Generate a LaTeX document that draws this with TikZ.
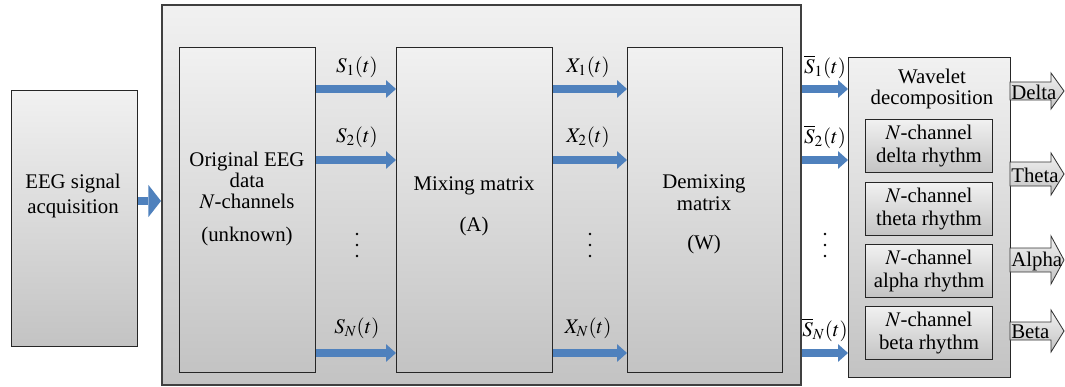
\documentclass[tikz,border=0pt]{standalone}
\usepackage{mathptmx}
\usepackage{fontspec}
\setmainfont{Liberation Serif}
\usepackage{tikz}
\usetikzlibrary{arrows.meta}
\tikzset{>=stealth}

\definecolor{flowblue}{HTML}{4F81BD}
\definecolor{boxtop}{HTML}{F1F1F1}
\definecolor{boxbot}{HTML}{C3C3C3}
\definecolor{rimgray}{HTML}{404040}
\newcommand\pxu{0.025cm}

\tikzset{
  blk/.style={draw=black!85, line width=0.8pt, top color=boxtop, bottom color=boxbot,
    anchor=north west, inner sep=0pt},
  frame/.style={blk, draw=rimgray, line width=1.4pt},
  rhythm/.style={blk, line width=0.7pt, align=center, font=\fontsize{14.8}{15.8}\selectfont,
    minimum width=127*\pxu, minimum height=53*\pxu},
  txt/.style={align=center, inner sep=0pt, font=\fontsize{14.8}{17}\selectfont},
  sig/.style={inner sep=0pt, font=\fontsize{14.8}{17}\selectfont},
  flow/.style={draw=flowblue, line width=5.6pt,
    -{Triangle[length=7pt,width=12.5pt,line width=0pt]}},
  bigflow/.style={flow, -{Triangle[length=9pt,width=23pt,line width=0pt]}},
  band/.style={draw=black!80, line width=0.6pt, top color=boxtop, bottom color=boxbot},
  dot/.style={fill=black}
}

% output band arrow: y, body half height, head half height, text
\newcommand\bandarrow[4]{%
  \draw[band] (1010,#1-#2) -- (1051,#1-#2) -- (1051,#1-#3) -- (1064,#1)
    -- (1051,#1+#3) -- (1051,#1+#2) -- (1010,#1+#2) -- cycle;
  \node[sig, anchor=west] at (1011,#1+1) {#4};}

\begin{document}
\begin{tikzpicture}[x=0.025cm, y=-0.025cm]
  \useasboundingbox (0,0) rectangle (1065,387);

  % rows of the signals
  \coordinate (r1) at (0,89);
  \coordinate (r2) at (0,160);
  \coordinate (rn) at (0,353);

  % acquisition
  \node[blk, minimum width=126*\pxu, minimum height=256*\pxu] (eeg) at (11,90) {};
  \node[txt, font=\fontsize{14.8}{18}\selectfont] (eegtxt) at (73,196) {EEG signal\\acquisition};

  % big frame with the three stages
  \node[frame, minimum width=639*\pxu, minimum height=380*\pxu] (frame) at (161,4) {};
  \node[blk, minimum width=136*\pxu, minimum height=325*\pxu] (orig) at (179,47) {};
  \node[blk, minimum width=156*\pxu, minimum height=325*\pxu] (mix) at (396,47) {};
  \node[blk, minimum width=155*\pxu, minimum height=325*\pxu] (demix) at (627,47) {};

  \node[txt, font=\fontsize{14.8}{15}\selectfont] (origtxt) at (247,199)
    {Original EEG\\data\\$N$-channels\\[8pt](unknown)};
  \node[txt] (mixtxt) at (474,206) {Mixing matrix\\[12pt](A)};
  \node[txt, font=\fontsize{14.8}{15.8}\selectfont] (demixtxt) at (704,214)
    {Demixing\\matrix\\[12pt](W)};

  % wavelet decomposition
  \node[blk, minimum width=162*\pxu, minimum height=320*\pxu] (wav) at (848,57) {};
  \node[txt, font=\fontsize{14.8}{15}\selectfont] (wavtxt) at (932,89) {Wavelet\\decomposition};
  \node[rhythm] (delta) at (865,119) {$N$-channel\\delta rhythm};
  \node[rhythm] (theta) at (865,182) {$N$-channel\\theta rhythm};
  \node[rhythm] (alpha) at (865,244) {$N$-channel\\alpha rhythm};
  \node[rhythm] (beta) at (865,306) {$N$-channel\\beta rhythm};

  % blue arrows
  \draw[bigflow] (eeg.east |- 0,201) -- (frame.west |- 0,201);
  \foreach \r in {r1,r2,rn} {
    \draw[flow] (orig.east |- \r) -- (mix.west |- \r);
    \draw[flow] (mix.east |- \r) -- (demix.west |- \r);
    \draw[flow] (frame.east |- \r) -- (wav.west |- \r);
  }

  % signal labels
  \node[sig] (s1) at (357,67) {$S_1(t)$};
  \node[sig] (s2) at (357,137) {$S_2(t)$};
  \node[sig] (sn) at (357,328) {$S_N(t)$};
  \node[sig] (x1) at (588,67) {$X_1(t)$};
  \node[sig] (x2) at (588,137) {$X_2(t)$};
  \node[sig] (xn) at (588,328) {$X_N(t)$};
  \node[sig] (b1) at (825,67) {$\overline{S}_1(t)$};
  \node[sig] (b2) at (825,137) {$\overline{S}_2(t)$};
  \node[sig] (bn) at (825,330) {$\overline{S}_N(t)$};
  % vertical dots
  \foreach \x in {357,590,825}
    \foreach \y in {234,245,256}
      \fill[dot] (\x,\y) circle (1.3);

  % outputs
  \bandarrow{91}{9}{18}{Delta}
  \bandarrow{174}{12}{21}{Theta}
  \bandarrow{260}{12}{24}{Alpha}
  \bandarrow{331}{9}{21}{Beta}

\end{tikzpicture}
\end{document}
